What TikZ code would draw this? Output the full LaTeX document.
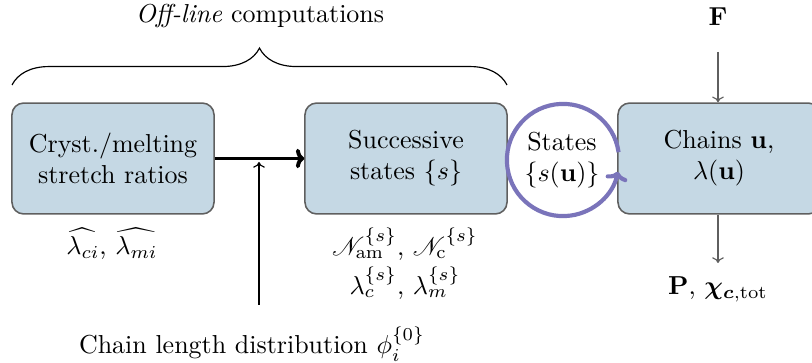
\documentclass[tikz,border=0pt]{standalone}
\usepackage{amsmath,amssymb,bm,mathrsfs}
\usetikzlibrary{arrows.meta,decorations.pathreplacing}
\definecolor{boxblue}{RGB}{197,216,228}
\definecolor{boxline}{RGB}{95,95,95}
\definecolor{loopcol}{RGB}{122,116,186}
\tikzset{
  stepbox/.style={draw=boxline, fill=boxblue, line width=0.6pt, rounded corners=4.5pt,
    minimum width=77.8pt, minimum height=42.7pt, align=center, inner sep=2pt},
  thickarrow/.style={line width=1.5pt, -{To[length=3.2pt,width=7.5pt]}},
  thinarrow/.style={line width=0.45pt, -{To[length=2.2pt,width=4.5pt]}},
  grayarrow/.style={thinarrow, draw=boxline},
  loopline/.style={draw=loopcol, line width=1.6pt, -{To[length=3.4pt,width=8.5pt]}},
  lbl/.style={inner sep=0pt, align=center}
}
\begin{document}
\begin{tikzpicture}[x=0.385pt,y=-0.385pt]
\useasboundingbox (0,0) rectangle (812,363);
% boxes
\node[stepbox] (b1) at (113,158.5) {Cryst./melting\\stretch ratios};
\node[stepbox] (b2) at (406,158.5) {Successive\\states $\{s\}$};
\node[stepbox] (b3) at (719,158.5) {Chains $\mathbf{u}$,\\$\lambda(\mathbf{u})$};
% states loop
\node[lbl] (st) at (562,160) {States\\$\{s(\mathbf{u})\}$};
\coordinate (stc) at (563,160);
\draw[loopline] ([shift={(8:21.6pt)}]stc) arc[start angle=8, end angle=348, radius=21.6pt];
% thick arrow
\draw[thickarrow] (b1.east) -- (b2.west);
% chain length
\node[lbl] (cl) at (252,344) {Chain length distribution $\phi_i^{\{0\}}$};
\coordinate (clt) at (259,305);
\coordinate (jn) at (259,162);
\draw[thinarrow] (clt) -- (jn);
% brace
\coordinate (brl) at (12,85);
\coordinate (brr) at (507,85);
\draw[line width=0.45pt, decorate, decoration={brace, amplitude=14.2pt}] (brl) -- (brr);
\node[lbl] (off) at (260,16) {\textit{Off-line} computations};
% labels below
\node[lbl] (lam) at (112,244) {$\widehat{\lambda_{ci}}$, $\widehat{\lambda_{mi}}$};
\node[lbl] (nn) at (405,244) {$\mathscr{N}_{\mathrm{am}}^{\{s\}}$, $\mathscr{N}_{\mathrm{c}}^{\{s\}}$};
\node[lbl] (ll) at (405,283) {$\lambda_c^{\{s\}}$, $\lambda_m^{\{s\}}$};
% F and P
\node[lbl] (F) at (718,17) {$\mathbf{F}$};
\coordinate (ft) at (718,52);
\draw[grayarrow] (ft) -- (b3.north -| ft);
\node[lbl] (P) at (718,289) {$\mathbf{P}$, $\bm{\chi}_{\bm{c},\mathrm{tot}}$};
\coordinate (pt) at (718,263);
\draw[grayarrow] (b3.south -| pt) -- (pt);
\end{tikzpicture}
\end{document}
